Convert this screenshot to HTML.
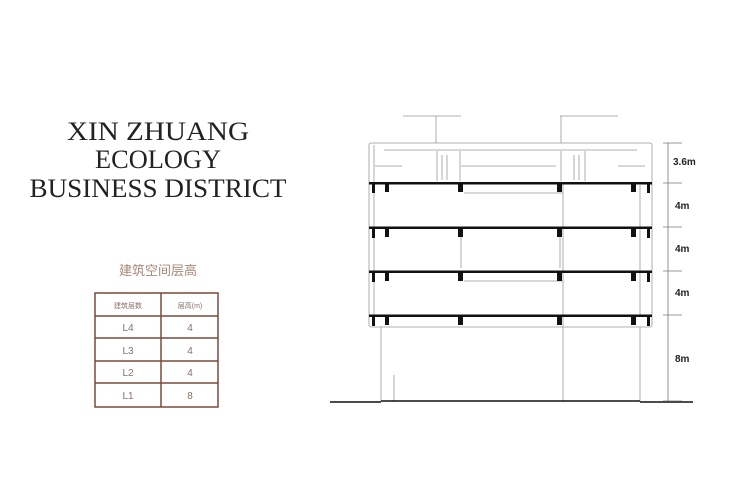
<!DOCTYPE html>
<html><head><meta charset="utf-8"><style>html,body{margin:0;padding:0;background:#fff}svg{display:block}</style></head><body>
<svg width="750" height="500" viewBox="0 0 750 500" xmlns="http://www.w3.org/2000/svg">
<rect width="750" height="500" fill="#fff"/>
<g font-family="Liberation Serif, serif" font-size="26" fill="#222" text-anchor="middle">
<text x="158" y="140" textLength="182" lengthAdjust="spacingAndGlyphs">XIN ZHUANG</text>
<text x="158" y="168" textLength="126" lengthAdjust="spacingAndGlyphs">ECOLOGY</text>
<text x="158" y="197" textLength="257" lengthAdjust="spacingAndGlyphs">BUSINESS DISTRICT</text>
</g>
<text x="158" y="275" font-family="Liberation Sans, Noto Sans CJK SC, sans-serif" font-size="13" fill="#a88878" text-anchor="middle">建筑空间层高</text>
<g stroke="#7a4a3a" stroke-width="1.5" fill="none">
<rect x="95" y="293" width="123" height="114"/>
<line x1="161" y1="293" x2="161" y2="407"/>
<line x1="95" y1="316" x2="218" y2="316"/>
<line x1="95" y1="338" x2="218" y2="338"/>
<line x1="95" y1="361" x2="218" y2="361"/>
<line x1="95" y1="383" x2="218" y2="383"/>
</g>
<g font-family="Liberation Sans, Noto Sans CJK SC, sans-serif" fill="#8a7068" text-anchor="middle" font-size="10">
<text x="128" y="308" font-size="7">建筑层数</text><text x="190" y="308" font-size="7">层高(m)</text>
<text x="128" y="331">L4</text><text x="190" y="331">4</text>
<text x="128" y="354">L3</text><text x="190" y="354">4</text>
<text x="128" y="376">L2</text><text x="190" y="376">4</text>
<text x="128" y="399">L1</text><text x="190" y="399">8</text>
</g>
<g stroke="#999" stroke-width="0.8" fill="none">
<line x1="403" y1="116" x2="461" y2="116"/><line x1="436" y1="116" x2="436" y2="143"/>
<line x1="560" y1="116" x2="618" y2="116"/><line x1="561" y1="116" x2="561" y2="143"/>
<rect x="369" y="143" width="283" height="184" rx="2"/>
<line x1="384" y1="150" x2="637" y2="150"/>
<line x1="375" y1="166" x2="402" y2="166"/><line x1="461" y1="166" x2="556" y2="166"/><line x1="618" y1="166" x2="645" y2="166"/>
<line x1="437" y1="151" x2="437" y2="181"/><line x1="442" y1="155" x2="442" y2="180"/><line x1="447" y1="155" x2="447" y2="180"/><line x1="460" y1="151" x2="460" y2="181"/>
<line x1="561" y1="151" x2="561" y2="181"/><line x1="574" y1="155" x2="574" y2="180"/><line x1="579" y1="155" x2="579" y2="180"/><line x1="585" y1="151" x2="585" y2="181"/>
<line x1="563" y1="183" x2="563" y2="402"/>
<line x1="464" y1="193" x2="563" y2="193"/>
<line x1="461" y1="235" x2="461" y2="268"/><line x1="560" y1="235" x2="560" y2="268"/>
<line x1="464" y1="281" x2="563" y2="281"/>
<line x1="381" y1="327" x2="381" y2="402"/><line x1="640" y1="327" x2="640" y2="402"/>
<line x1="394" y1="375" x2="394" y2="402"/>
<line x1="640" y1="185" x2="640" y2="316"/>
<line x1="374" y1="145" x2="374" y2="325"/>
</g>
<g fill="#111">
<rect x="369" y="182" width="283" height="2.5"/>
<rect x="369" y="226.5" width="283" height="2.5"/>
<rect x="369" y="270.5" width="283" height="2.5"/>
<rect x="369" y="314.5" width="283" height="2.5"/>
</g>
<g fill="#111">
<g id="cols">
<rect x="372" y="183" width="3" height="10"/><rect x="385" y="183" width="4" height="9"/><rect x="458" y="183" width="5" height="9"/><rect x="557" y="183" width="5" height="9"/><rect x="631" y="183" width="5" height="9"/><rect x="647" y="183" width="3" height="10"/>
</g>
<use href="#cols" y="45"/><use href="#cols" y="89"/><use href="#cols" y="133"/>
</g>
<line x1="330" y1="402" x2="381" y2="402" stroke="#111" stroke-width="1.5"/>
<line x1="381" y1="401" x2="640" y2="401" stroke="#111" stroke-width="1.5"/>
<line x1="640" y1="402" x2="693" y2="402" stroke="#111" stroke-width="1.5"/>
<g stroke="#777" stroke-width="0.8">
<line x1="668" y1="143" x2="668" y2="401"/>
<line x1="663" y1="143" x2="682" y2="143"/><line x1="663" y1="183" x2="682" y2="183"/><line x1="663" y1="227" x2="682" y2="227"/><line x1="663" y1="271" x2="682" y2="271"/><line x1="663" y1="315" x2="682" y2="315"/><line x1="663" y1="401" x2="682" y2="401"/>
</g>
<g font-family="Liberation Sans, sans-serif" font-size="10" font-weight="bold" fill="#222">
<text x="673" y="165">3.6m</text><text x="675" y="209">4m</text><text x="675" y="252">4m</text><text x="675" y="296">4m</text><text x="675" y="362">8m</text>
</g>
</svg>
</body></html>
